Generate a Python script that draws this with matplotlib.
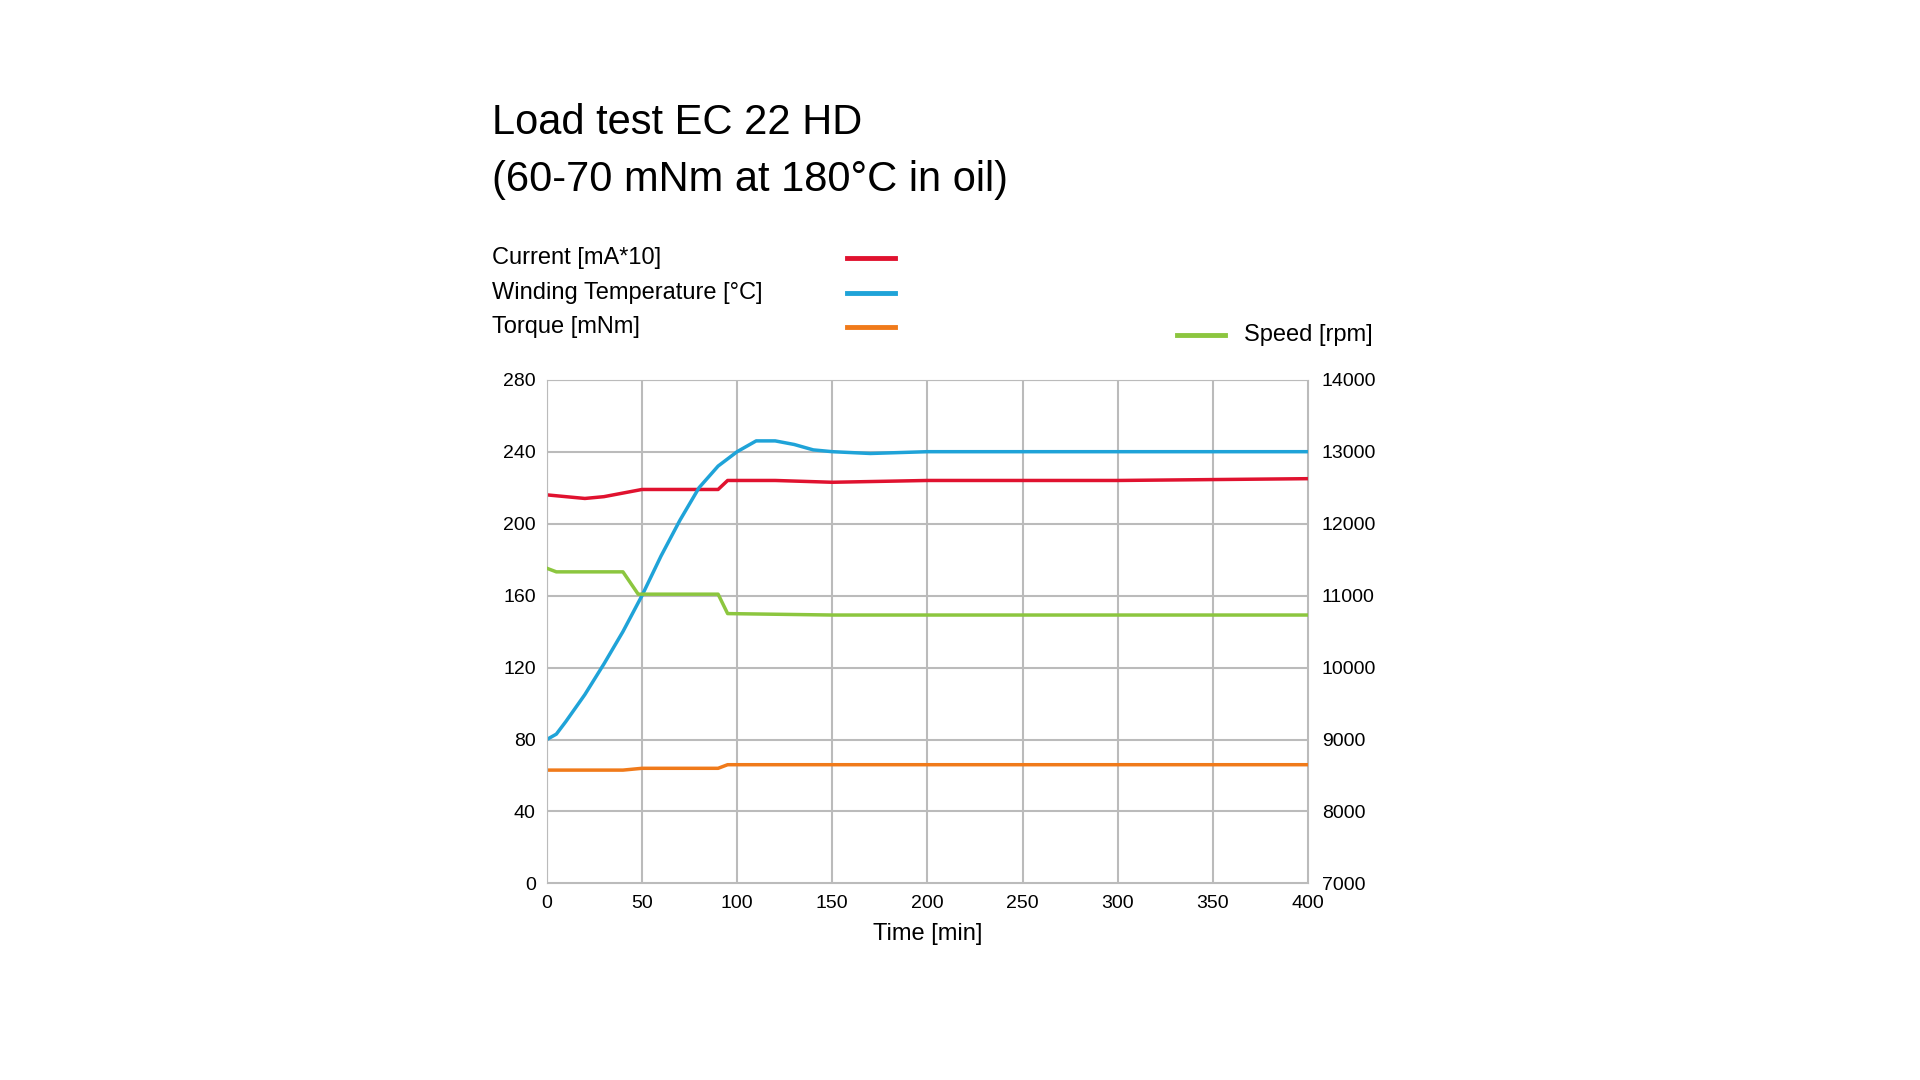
import matplotlib
matplotlib.use("Agg")
import matplotlib.pyplot as plt

plt.rcParams['font.family'] = ['Liberation Sans', 'DejaVu Sans']

# data
t_current = [0, 10, 20, 30, 40, 50, 60, 90, 95, 120, 150, 200, 300, 400]
current = [216, 215, 214, 215, 217, 219, 219, 219, 224, 224, 223, 224, 224, 225]

t_temp = [0, 5, 10, 20, 30, 40, 50, 60, 70, 80, 90, 100, 110, 120, 130, 140, 150, 170, 200, 300, 400]
temp = [80, 83, 90, 105, 122, 140, 160, 182, 202, 220, 232, 240, 246, 246, 244, 241, 240, 239, 240, 240, 240]

t_torque = [0, 20, 40, 50, 90, 95, 150, 400]
torque = [63, 63, 63, 64, 64, 66, 66, 66]

t_speed = [0, 5, 40, 48, 90, 95, 150, 400]
speed = [11380, 11330, 11330, 11020, 11020, 10750, 10730, 10730]

red, blue, orange, green = '#e0122f', '#1fa3d8', '#f07a1a', '#8cc63f'

fig = plt.figure(figsize=(19.2, 10.8), dpi=100)
ax = fig.add_axes([0.2848, 0.182, 0.3965, 0.4664])
ax.plot(t_current, current, color=red, lw=2.5)
ax.plot(t_temp, temp, color=blue, lw=2.5)
ax.plot(t_torque, torque, color=orange, lw=2.5)
ax.set_xlim(0, 400)
ax.set_ylim(0, 280)
ax.set_xticks(range(0, 401, 50))
ax.set_yticks(range(0, 281, 40))
ax.grid(True, color='#bbbbbb', lw=1.5)
ax.tick_params(labelsize=14, length=0, pad=8)
for s in ax.spines.values():
    s.set_color('#bbbbbb')
ax.set_xlabel('Time [min]', fontsize=17, labelpad=8, fontweight='medium')

ax2 = ax.twinx()
ax2.plot(t_speed, speed, color=green, lw=2.5)
ax2.set_ylim(7000, 14000)
ax2.set_yticks(range(7000, 14001, 1000))
ax2.tick_params(labelsize=14, length=0, pad=10)
for s in ax2.spines.values():
    s.set_visible(False)

fig.text(0.256, 0.886, 'Load test EC 22 HD', fontsize=30, va='center')
fig.text(0.256, 0.833, '(60-70 mNm at 180°C in oil)', fontsize=30, va='center')

labels = ['Current [mA*10]', 'Winding Temperature [°C]', 'Torque [mNm]']
for i, (lab, c) in enumerate(zip(labels, [red, blue, orange])):
    y = 0.761 - i * 0.032
    fig.text(0.256, y, lab, fontsize=17, va='center', fontweight='medium')
    fig.add_artist(plt.Line2D([0.441, 0.466], [y, y], color=c, lw=3.5))
fig.add_artist(plt.Line2D([0.613, 0.638], [0.69, 0.69], color=green, lw=3.5))
fig.text(0.648, 0.69, 'Speed [rpm]', fontsize=17, va='center', fontweight='medium')

fig.savefig('out.png', dpi=100, facecolor='white')
